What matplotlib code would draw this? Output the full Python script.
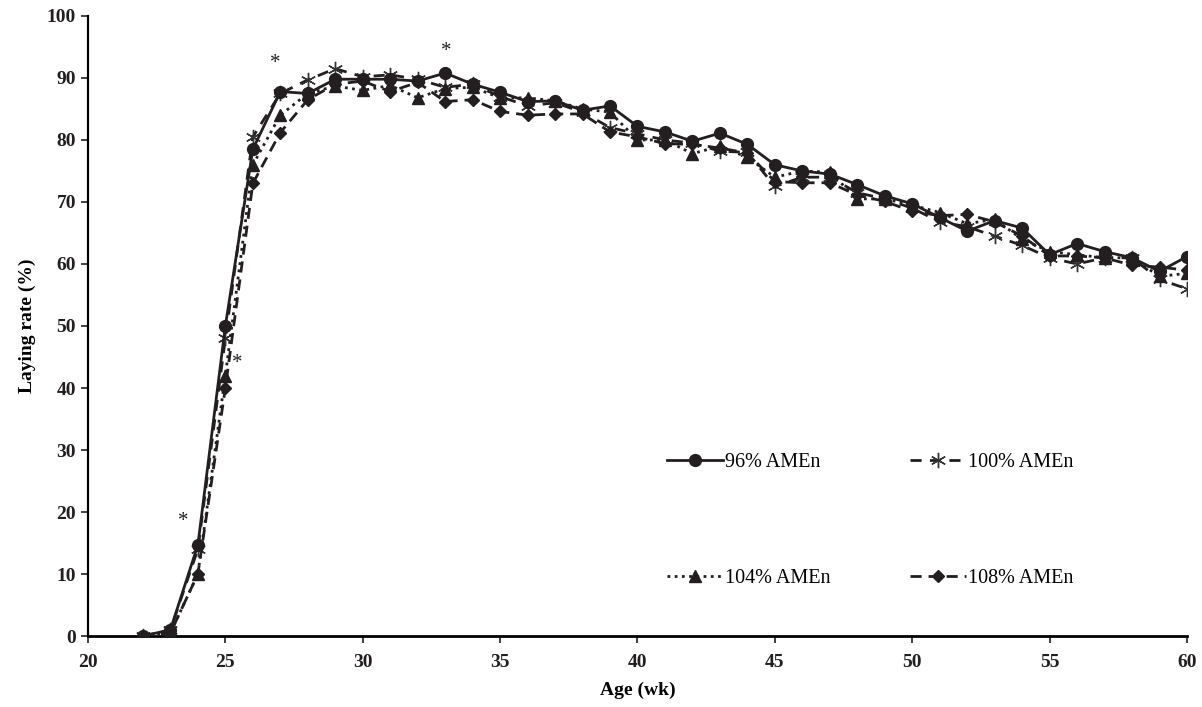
import matplotlib
matplotlib.use("Agg")
import matplotlib.pyplot as plt

weeks = list(range(22, 61))

amen96 = [0, 1, 14.7, 50, 78.5, 87.8, 87.5, 89.8, 89.8, 89.8, 89.5, 90.8, 89.0, 87.7, 86.2, 86.3,
          84.8, 85.5, 82.2, 81.3, 79.8, 81.1, 79.3, 76.0, 75.0, 74.5, 72.8, 71.0, 69.7, 67.5,
          65.3, 67.0, 65.8, 61.5, 63.3, 62.0, 61.0, 58.8, 61.2]
amen100 = [0, 1, 14.0, 48, 80.5, 87.5, 89.7, 91.5, 90.2, 90.5, 89.8, 88.5, 89.0, 87.0, 85.5, 86.0,
           84.5, 82.0, 81.0, 80.0, 79.5, 78.2, 78.0, 72.5, 74.0, 74.0, 71.5, 70.5, 69.0, 66.8,
           66.0, 64.5, 63.0, 61.0, 60.0, 61.0, 61.0, 57.5, 56.0]
amen104 = [0, 0.5, 10.0, 42, 76.0, 84.0, 87.5, 88.7, 88.0, 88.8, 86.8, 88.3, 88.5, 86.8, 86.8, 86.3,
           85.0, 84.5, 80.0, 80.0, 77.8, 79.0, 77.2, 74.0, 75.0, 74.8, 70.5, 70.5, 69.5, 68.3,
           66.5, 67.2, 64.0, 62.0, 61.5, 61.0, 61.0, 58.0, 58.5]
amen108 = [0, 0.5, 10.0, 40, 73.0, 81.2, 86.5, 89.0, 89.5, 87.8, 89.3, 86.2, 86.5, 84.6, 84.0, 84.2,
           84.2, 81.3, 80.5, 79.4, 79.3, 78.7, 77.9, 73.3, 73.1, 73.1, 71.1, 70.1, 68.5, 67.8,
           68.0, 66.8, 64.5, 61.3, 61.3, 61.0, 59.8, 59.5, 59.0]

labels = ["96% AMEn", "100% AMEn", "104% AMEn", "108% AMEn"]
sig_x = [23.45, 25.45, 26.8, 33.05]
sig_y = [17.0, 42.5, 90.8, 92.7]

x_ticks = [20, 25, 30, 35, 40, 45, 50, 55, 60]
y_ticks = [0, 10, 20, 30, 40, 50, 60, 70, 80, 90, 100]

plt.rcParams['font.family'] = ['Liberation Serif', 'DejaVu Serif']

fig = plt.figure(figsize=(12.02, 7.07), dpi=100)
ax = fig.add_axes([0.0732, 0.1004, 0.9143, 0.877])

c = '#231f20'
h96, = ax.plot(weeks, amen96, color=c, lw=2.0, ls='-', marker='o', ms=8.5, label=labels[0], zorder=5)
h100, = ax.plot(weeks, amen100, color=c, lw=2.0, ls=(0, (4, 3)), marker=(6, 2, 0), ms=11,
                mew=1.0, mec='#333333', label=labels[1], zorder=3)
h104, = ax.plot(weeks, amen104, color=c, lw=2.0, ls=(0, (1, 1.6)), marker='^', ms=8.5,
                label=labels[2], zorder=4)
h108, = ax.plot(weeks, amen108, color=c, lw=2.0, ls=(0, (4, 2.5)), marker='D', ms=6.5,
                label=labels[3], zorder=4)

for sx, sy in zip(sig_x, sig_y):
    ax.text(sx, sy, '*', ha='center', va='bottom', fontsize=15, color=c)

ax.set_xlim(20, 60)
ax.set_ylim(0, 100)
ax.set_xticks(x_ticks)
ax.set_yticks(y_ticks)
ax.tick_params(axis='both', direction='out', length=5, width=1.2, labelsize=14, colors=c)
for lab in ax.get_xticklabels() + ax.get_yticklabels():
    lab.set_fontweight('bold')
ax.tick_params(axis='x', pad=8)
ax.spines['top'].set_visible(False)
ax.spines['right'].set_visible(False)
ax.spines['left'].set_linewidth(1.6)
ax.spines['bottom'].set_linewidth(2.0)
ax.set_xlabel('Age (wk)', fontsize=14, fontweight='bold', labelpad=8)
ax.set_ylabel('Laying rate (%)', fontsize=14, fontweight='bold', labelpad=8)

leg = ax.legend(handles=[h96, h104, h100, h108], ncol=2, frameon=False, fontsize=14.5,
                loc='upper left', bbox_to_anchor=(0.51, 0.325), handlelength=2.8,
                handletextpad=0.1, columnspacing=3.95, labelspacing=4.85)

fig.savefig('out.png', dpi=100)
